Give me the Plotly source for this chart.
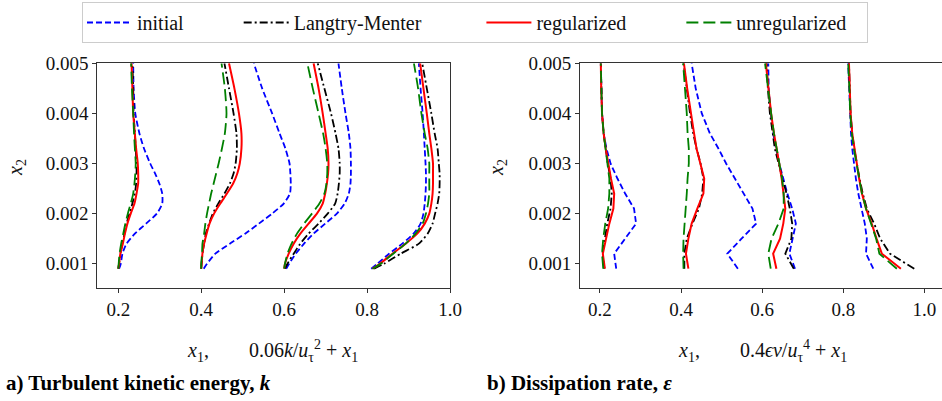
import plotly.graph_objects as go

# ---------------- data ----------------
SERIES = ["initial", "Langtry-Menter", "regularized", "unregularized"]

# left panel: x2 grid and profiles (0.06 k/u_tau^2 + x1), 4 stations each
K_Y = [0.0009, 0.001, 0.0012, 0.0014, 0.0016, 0.0018, 0.002, 0.0022, 0.0024,
       0.0026, 0.0028, 0.003, 0.0033, 0.0036, 0.004, 0.0045, 0.005]
K_INIT = [
    [0.202, 0.206, 0.210, 0.220, 0.240, 0.267, 0.293, 0.306, 0.306, 0.299, 0.289, 0.277, 0.262, 0.251, 0.241, 0.237, 0.236],
    [0.406, 0.414, 0.434, 0.469, 0.506, 0.539, 0.571, 0.599, 0.614, 0.616, 0.615, 0.613, 0.603, 0.589, 0.571, 0.547, 0.527],
    [0.605, 0.612, 0.628, 0.648, 0.671, 0.699, 0.727, 0.746, 0.756, 0.760, 0.761, 0.761, 0.760, 0.756, 0.748, 0.739, 0.731],
    [0.810, 0.825, 0.853, 0.885, 0.912, 0.929, 0.936, 0.939, 0.941, 0.942, 0.942, 0.941, 0.939, 0.937, 0.934, 0.929, 0.925],
]
K_LM = [
    [0.200, 0.202, 0.205, 0.210, 0.215, 0.220, 0.227, 0.234, 0.240, 0.243, 0.244, 0.244, 0.242, 0.240, 0.237, 0.236, 0.234],
    [0.400, 0.401, 0.403, 0.407, 0.411, 0.419, 0.428, 0.441, 0.456, 0.469, 0.478, 0.483, 0.486, 0.485, 0.478, 0.467, 0.456],
    [0.602, 0.608, 0.623, 0.639, 0.659, 0.683, 0.705, 0.723, 0.729, 0.732, 0.734, 0.734, 0.731, 0.724, 0.713, 0.697, 0.681],
    [0.817, 0.841, 0.881, 0.925, 0.946, 0.958, 0.964, 0.970, 0.974, 0.975, 0.975, 0.973, 0.970, 0.963, 0.955, 0.944, 0.933],
]
K_REG = [
    [0.200, 0.202, 0.205, 0.211, 0.216, 0.222, 0.230, 0.239, 0.244, 0.248, 0.248, 0.247, 0.243, 0.240, 0.236, 0.234, 0.232],
    [0.400, 0.401, 0.403, 0.407, 0.413, 0.420, 0.431, 0.446, 0.462, 0.477, 0.487, 0.493, 0.497, 0.497, 0.491, 0.480, 0.467],
    [0.600, 0.602, 0.611, 0.623, 0.639, 0.659, 0.679, 0.693, 0.699, 0.703, 0.706, 0.707, 0.705, 0.700, 0.693, 0.683, 0.671],
    [0.813, 0.831, 0.861, 0.893, 0.921, 0.939, 0.950, 0.955, 0.958, 0.959, 0.959, 0.959, 0.955, 0.950, 0.944, 0.936, 0.928],
]
K_UNREG = [
    [0.200, 0.201, 0.203, 0.207, 0.212, 0.217, 0.223, 0.230, 0.236, 0.239, 0.241, 0.242, 0.240, 0.238, 0.236, 0.233, 0.231],
    [0.400, 0.400, 0.402, 0.403, 0.407, 0.410, 0.414, 0.419, 0.424, 0.430, 0.436, 0.442, 0.450, 0.457, 0.461, 0.457, 0.449],
    [0.600, 0.602, 0.608, 0.618, 0.631, 0.648, 0.667, 0.685, 0.697, 0.702, 0.704, 0.704, 0.700, 0.694, 0.683, 0.669, 0.656],
    [0.813, 0.833, 0.863, 0.893, 0.917, 0.934, 0.942, 0.947, 0.950, 0.950, 0.950, 0.950, 0.946, 0.939, 0.931, 0.923, 0.913],
]

# right panel: x2 grid and profiles (0.4 eps nu/u_tau^4 + x1)
E_Y = [0.0009, 0.0012, 0.0015, 0.0018, 0.0021, 0.0024, 0.0027, 0.003, 0.0033,
       0.0036, 0.004, 0.0045, 0.005]
E_INIT = [
    [0.240, 0.235, 0.262, 0.289, 0.284, 0.262, 0.243, 0.226, 0.216, 0.209, 0.205, 0.203, 0.202],
    [0.540, 0.514, 0.549, 0.585, 0.576, 0.554, 0.531, 0.511, 0.492, 0.471, 0.451, 0.436, 0.426],
    [0.681, 0.667, 0.675, 0.683, 0.674, 0.662, 0.652, 0.642, 0.634, 0.627, 0.621, 0.616, 0.615],
    [0.874, 0.856, 0.858, 0.853, 0.845, 0.837, 0.831, 0.826, 0.822, 0.819, 0.817, 0.814, 0.812],
]
E_LM = [
    [0.211, 0.206, 0.212, 0.218, 0.226, 0.229, 0.226, 0.219, 0.214, 0.209, 0.205, 0.203, 0.202],
    [0.408, 0.408, 0.414, 0.428, 0.444, 0.452, 0.455, 0.448, 0.438, 0.430, 0.422, 0.414, 0.406],
    [0.678, 0.657, 0.672, 0.674, 0.668, 0.660, 0.650, 0.640, 0.631, 0.626, 0.619, 0.614, 0.611],
    [0.975, 0.915, 0.891, 0.876, 0.858, 0.848, 0.840, 0.833, 0.827, 0.822, 0.818, 0.816, 0.814],
]
E_REG = [
    [0.212, 0.207, 0.215, 0.223, 0.233, 0.235, 0.227, 0.220, 0.214, 0.209, 0.205, 0.203, 0.202],
    [0.418, 0.412, 0.418, 0.426, 0.440, 0.455, 0.457, 0.448, 0.438, 0.432, 0.424, 0.415, 0.407],
    [0.635, 0.627, 0.644, 0.652, 0.657, 0.653, 0.648, 0.642, 0.635, 0.629, 0.622, 0.616, 0.609],
    [0.942, 0.895, 0.882, 0.870, 0.856, 0.846, 0.839, 0.833, 0.827, 0.822, 0.818, 0.816, 0.814],
]
E_UNREG = [
    [0.208, 0.205, 0.208, 0.213, 0.220, 0.223, 0.223, 0.218, 0.213, 0.209, 0.205, 0.203, 0.202],
    [0.406, 0.405, 0.406, 0.409, 0.411, 0.414, 0.416, 0.419, 0.419, 0.416, 0.414, 0.410, 0.405],
    [0.621, 0.615, 0.623, 0.640, 0.653, 0.653, 0.649, 0.642, 0.635, 0.629, 0.622, 0.615, 0.607],
    [0.932, 0.889, 0.881, 0.868, 0.856, 0.846, 0.839, 0.832, 0.826, 0.821, 0.817, 0.815, 0.812],
]

X_TICKS = [0.2, 0.4, 0.6, 0.8, 1.0]
X_TICK_LABELS = ["0.2", "0.4", "0.6", "0.8", "1.0"]
Y_TICKS = [0.001, 0.002, 0.003, 0.004, 0.005]
Y_TICK_LABELS = ["0.001", "0.002", "0.003", "0.004", "0.005"]

# ---------------- styles ----------------
STYLE = {
    "initial": dict(color="#0000ff", dash="6px,3px", width=1.8),
    "Langtry-Menter": dict(color="#000000", dash="8px,3px,2px,3px", width=1.8),
    "regularized": dict(color="#ff0000", dash="solid", width=2.0),
    "unregularized": dict(color="#008000", dash="12px,5px", width=1.8),
}
NB = "\u00a0"
LEG_NAMES = {
    "initial": "initial" + NB * 10,
    "Langtry-Menter": "Langtry-Menter" + NB * 11,
    "regularized": "regularized" + NB * 10,
    "unregularized": "unregularized" + NB * 3,
}

W, H = 942, 401
SERIF = "Liberation Serif"
TXT = "#111111"


def join_stations(stations, ygrid):
    xs, ys = [], []
    for i, st in enumerate(stations):
        if i:
            xs.append(None)
            ys.append(None)
        xs.extend(st)
        ys.extend(ygrid)
    return xs, ys


fig = go.Figure()
K_DATA = {"initial": K_INIT, "Langtry-Menter": K_LM, "regularized": K_REG, "unregularized": K_UNREG}
E_DATA = {"initial": E_INIT, "Langtry-Menter": E_LM, "regularized": E_REG, "unregularized": E_UNREG}

for name in SERIES:
    xs, ys = join_stations(K_DATA[name], K_Y)
    fig.add_trace(go.Scatter(x=xs, y=ys, mode="lines", name=LEG_NAMES[name],
                             line=dict(STYLE[name], shape="spline", smoothing=0.6),
                             xaxis="x", yaxis="y", legendgroup=name, showlegend=True))
for name in SERIES:
    xs, ys = join_stations(E_DATA[name], E_Y)
    fig.add_trace(go.Scatter(x=xs, y=ys, mode="lines", name=LEG_NAMES[name],
                             line=STYLE[name], xaxis="x2", yaxis="y2",
                             legendgroup=name, showlegend=False))

axis_common = dict(showline=True, linecolor="#333333", linewidth=1, ticks="outside",
                   ticklen=4, tickwidth=1, tickcolor="#333333", showgrid=False,
                   zeroline=False, tickfont=dict(family=SERIF, size=19, color=TXT))


def px_x(p):
    return p / W


def px_y(p):
    return 1 - p / H


fig.update_layout(
    width=W, height=H,
    margin=dict(l=0, r=0, t=0, b=0, autoexpand=False),
    paper_bgcolor="white", plot_bgcolor="white",
    xaxis=dict(axis_common, domain=[px_x(97.3), px_x(450)], range=[0.1494, 1.0],
               tickvals=X_TICKS, ticktext=X_TICK_LABELS, mirror=True, anchor="y"),
    yaxis=dict(axis_common, domain=[px_y(288), px_y(63.3)], range=[0.000515, 0.005],
               tickvals=Y_TICKS, ticktext=Y_TICK_LABELS, mirror=True, anchor="x"),
    xaxis2=dict(axis_common, domain=[px_x(580), 1.0], range=[0.1507, 1.0434],
                tickvals=X_TICKS, ticktext=X_TICK_LABELS, mirror=True, anchor="y2"),
    yaxis2=dict(axis_common, domain=[px_y(288), px_y(63.3)], range=[0.000515, 0.005],
                tickvals=Y_TICKS, ticktext=Y_TICK_LABELS, mirror=False, anchor="x2"),
    showlegend=True,
    legend=dict(orientation="h", x=px_x(475), xanchor="center", y=px_y(2), yanchor="top",
                bordercolor="#cccccc", borderwidth=1, bgcolor="white",
                font=dict(family=SERIF, size=20, color=TXT),
                itemwidth=45, tracegroupgap=0),
)

SP = NB * 8
annots = [
    dict(x=px_x(272), y=px_y(351), text="<i>x</i><sub>1</sub>," + SP + "0.06<i>k</i>/<i>u</i><sub>τ</sub><sup>2</sup> + <i>x</i><sub>1</sub>",
         font=dict(family=SERIF, size=20, color=TXT)),
    dict(x=px_x(762), y=px_y(351), text="<i>x</i><sub>1</sub>," + SP + "0.4<i>ϵν</i>/<i>u</i><sub>τ</sub><sup>4</sup> + <i>x</i><sub>1</sub>",
         font=dict(family=SERIF, size=20, color=TXT)),
    dict(x=px_x(16), y=px_y(168), text="<i>x</i><sub>2</sub>", textangle=-90,
         font=dict(family=SERIF, size=20, color=TXT)),
    dict(x=px_x(497), y=px_y(168), text="<i>x</i><sub>2</sub>", textangle=-90,
         font=dict(family=SERIF, size=20, color=TXT)),
    dict(x=px_x(4), y=px_y(383), xanchor="left", text="<b>a) Turbulent kinetic energy, <i>k</i></b>",
         font=dict(family=SERIF, size=21, color="#000000")),
    dict(x=px_x(485), y=px_y(383), xanchor="left", text="<b>b) Dissipation rate, <i>ε</i></b>",
         font=dict(family=SERIF, size=21, color="#000000")),
]
for a in annots:
    a.setdefault("xanchor", "center")
    fig.add_annotation(xref="paper", yref="paper", showarrow=False, yanchor="middle", **a)

fig.write_html("out.html")
